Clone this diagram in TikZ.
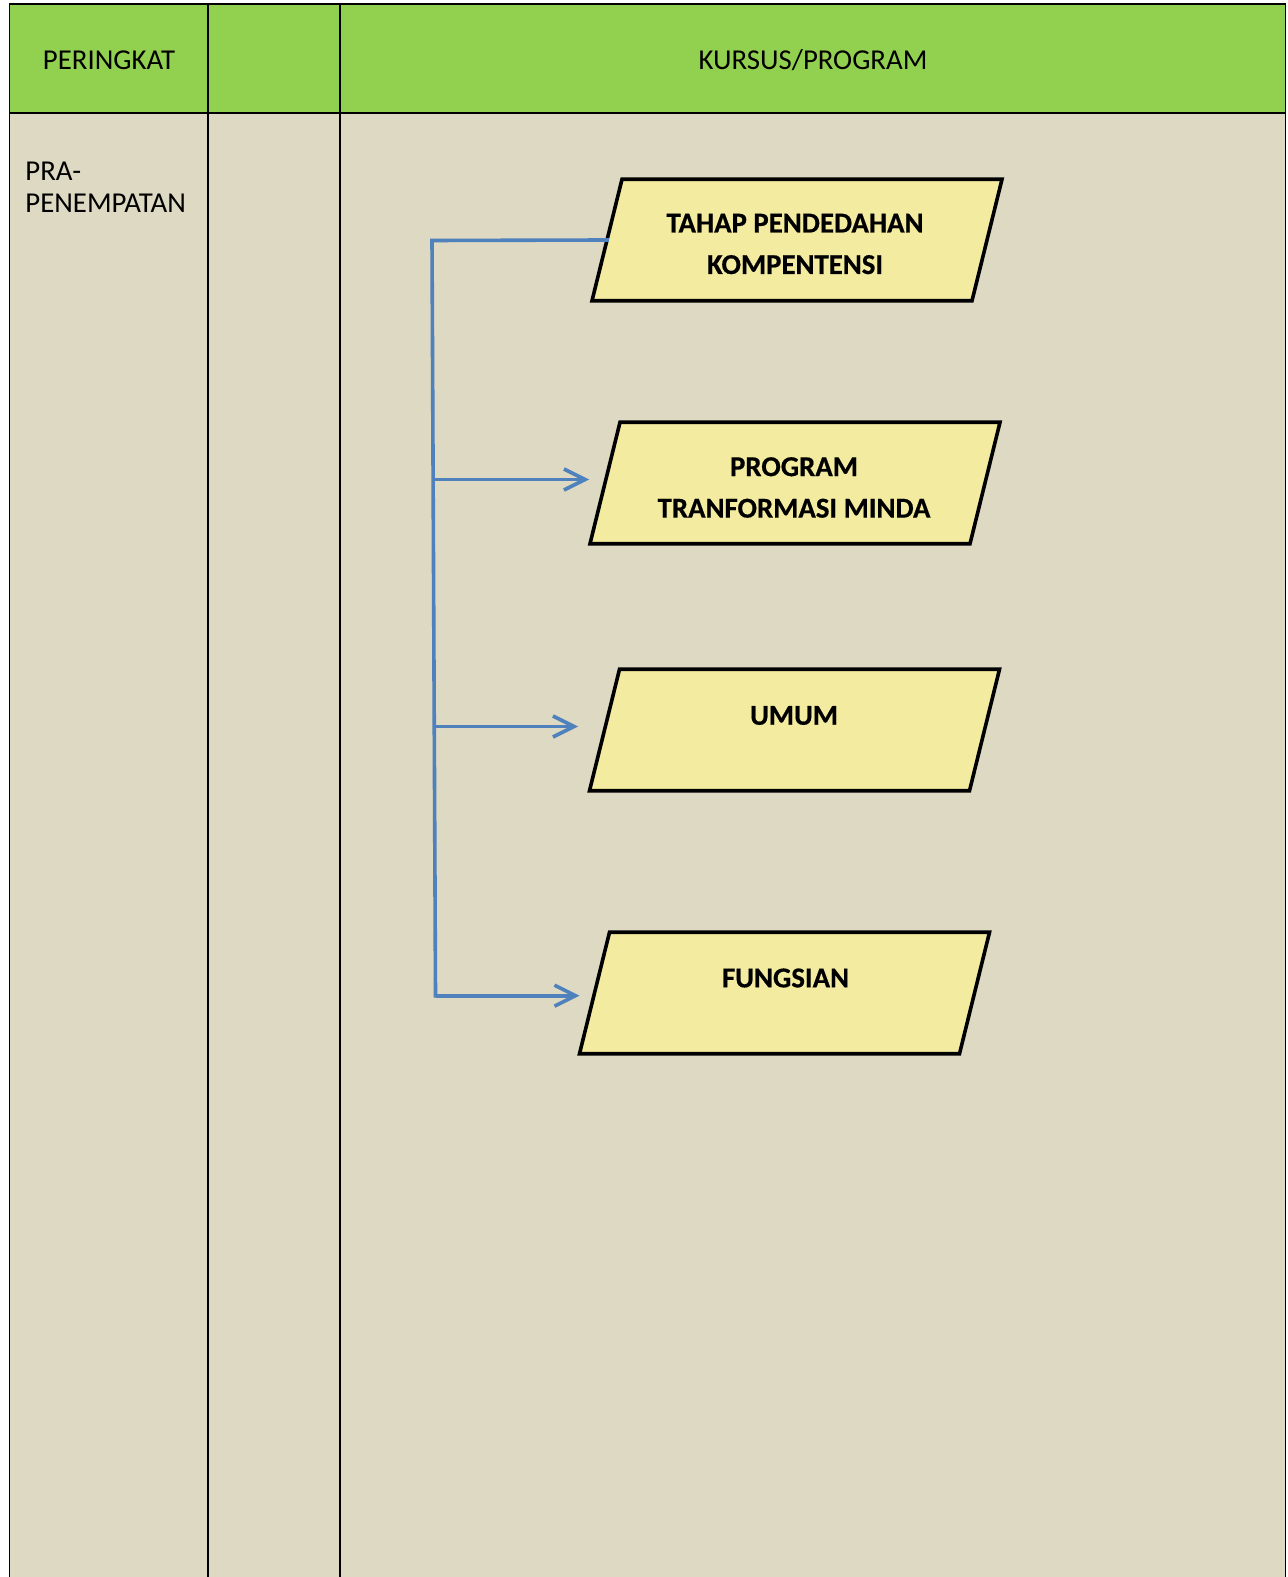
\documentclass[tikz,border=0pt]{standalone}
\usepackage{fontspec}
\setmainfont{Carlito}
\newfontfamily\boxfont{Carlito Bold}[FakeBold=0.5]
\usetikzlibrary{arrows.meta,calc}
\definecolor{hdrgreen}{HTML}{92D050}
\definecolor{bodybg}{HTML}{DDD9C3}
\definecolor{boxyellow}{HTML}{F3EB9F}
\definecolor{linkblue}{HTML}{4F81BD}
\tikzset{
  gridline/.style={draw=black, line width=0.9pt},
  hdrtext/.style={font=\fontsize{14.4}{16}\selectfont, inner sep=0pt, text=black},
  boxcore/.style={minimum width=190pt, minimum height=60.75pt, inner sep=0pt, outer sep=0pt},
  boxshape/.style={draw=black, line width=1.8pt, fill=boxyellow, line join=miter},
  boxtext/.style={font=\fontsize{14.4}{20.75}\boxfont, align=center, inner sep=0pt, text=black},
  link/.style={draw=linkblue, line width=1.8pt},
  linkarrow/.style={link, -{Straight Barb[length=10.5pt, width=10.5pt, line width=1.8pt]}}
}
\begin{document}
\begin{tikzpicture}[x=0.5pt, y=-0.5pt]
\useasboundingbox (0,0) rectangle (1288,1577);
\fill[white] (0,0) rectangle (1288,1577);
% table fills
\fill[hdrgreen] (9.5,4) rectangle (1285.5,112.7);
\fill[bodybg] (9.5,112.7) rectangle (1285.5,1577);
% grid lines
\draw[gridline] (9.5,1577) -- (9.5,4) -- (1285.5,4) -- (1285.5,1577);
\draw[gridline] (9.5,112.7) -- (1285.5,112.7);
\draw[gridline] (208.3,4) -- (208.3,1577);
\draw[gridline] (340,4) -- (340,1577);
% header texts
\node[hdrtext] (hperingkat) at (109,60.5) {PERINGKAT};
\node[hdrtext] (hkursus) at (813,60.5) {KURSUS/PROGRAM};
\node[hdrtext, anchor=west, align=left] (lpra) at (25,187.7) {PRA-\\PENEMPATAN};
% box cores
\node[boxcore] (p1) at (797,240) {};
\node[boxcore] (p2) at (795,483) {};
\node[boxcore] (p3) at (794.5,730) {};
\node[boxcore] (p4) at (784.5,993) {};
\foreach \b in {p1,p2,p3,p4}{
  \draw[boxshape] ($(\b.north west)+(15,0)$) -- ($(\b.north east)+(15,0)$)
     -- ($(\b.south east)+(-15,0)$) -- ($(\b.south west)+(-15,0)$) -- cycle;
}
% box texts
\node[boxtext] (t1) at (795,244) {TAHAP PENDEDAHAN\\KOMPENTENSI};
\node[boxtext] (t2) at (794,487.5) {PROGRAM\\TRANFORMASI MINDA};
\node[boxtext] (t3) at (794,715.5) {UMUM};
\node[boxtext] (t4) at (785.5,978) {FUNGSIAN};
% connectors
\coordinate (ctop) at (432,240.5);
\coordinate (c2) at (433,479.5);
\coordinate (c3) at (434.5,726.5);
\coordinate (c4) at (435.5,995.7);
\draw[link, line cap=rect] (p1.west) -- (ctop) -- (c4);
\draw[linkarrow] (c2) -- ($(p2.west |- c2)+(-16,0)$);
\draw[linkarrow] (c3) -- ($(p3.west |- c3)+(-26.5,0)$);
\draw[linkarrow] (c4) -- ($(p4.west |- c4)+(-15,0)$);
\end{tikzpicture}
\end{document}
